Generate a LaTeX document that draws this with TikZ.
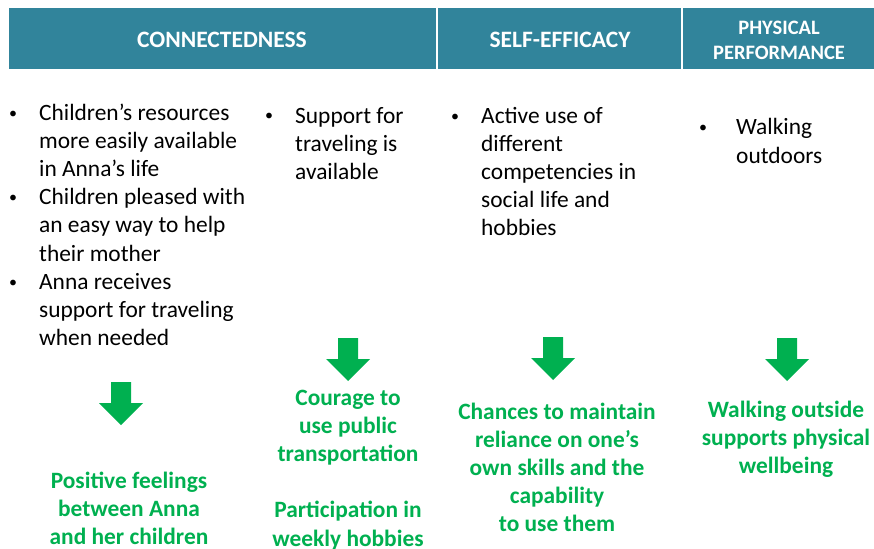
\documentclass[tikz,border=0pt]{standalone}
\usepackage{fontspec}
\setmainfont{Carlito}
\usetikzlibrary{positioning}
\definecolor{headteal}{RGB}{49,132,155}
\definecolor{outgreen}{RGB}{0,176,80}
\tikzset{
    headbox/.style={fill=headteal, draw=white, line width=1.5pt},
    headtext/.style={text=white, align=center, inner sep=0pt,
        font=\bfseries\fontsize{23.5}{25}\selectfont},
    bullets/.style={anchor=base west, inner sep=0pt, align=left,
        font=\fontsize{23.4}{28.2}\selectfont},
    outcome/.style={anchor=base, inner sep=0pt, align=center, text=outgreen,
        font=\bfseries\fontsize{23.4}{28.2}\selectfont},
    pics/blockdown/.style={code={
        \fill[outgreen] (-10,0) -- (10,0) -- (10,21) -- (22,21) -- (0,43)
            -- (-22,21) -- (-10,21) -- cycle;}}
}
\newcommand{\bl}[1][22pt]{\llap{\raisebox{2pt}{\fontsize{16}{16}\selectfont\textbullet}\hspace{#1}}}

\begin{document}
\begin{tikzpicture}[x=1pt, y=-1pt]
    \useasboundingbox (0,0) rectangle (874,548);
    % header bar
    \draw[headbox] (8,7) rectangle (437,70);
    \draw[headbox] (437,7) rectangle (682,70);
    \draw[headbox] (682,7) rectangle (876,70);
    \node[headtext] (hcon) at (222,40) {CONNECTEDNESS};
    \node[headtext] (heff) at (560,40) {SELF-EFFICACY};
    \node[headtext, font=\bfseries\fontsize{20.5}{25}\selectfont] (hphy) at (779,40) {PHYSICAL\\PERFORMANCE};

    % bullet columns (anchored at the last line's baseline)
    \node[bullets] (bcon) at (39,345.6) {\bl Children's resources\\more easily available\\in Anna's life\\
        \bl Children pleased with\\an easy way to help\\their mother\\
        \bl Anna receives\\support for traveling\\when needed};
    \node[bullets] (btra) at (295,179.4) {\bl Support for\\traveling is\\available};
    \node[bullets] (beff) at (481,235.8) {\bl Active use of\\different\\competencies in\\social life and\\hobbies};
    \node[bullets] (bphy) at (736,163.2) {\bl[29pt]Walking\\outdoors};

    % arrows
    \pic at (121,382) {blockdown};
    \pic at (348,338) {blockdown};
    \pic at (553,337) {blockdown};
    \pic at (787,338) {blockdown};

    % outcomes
    \node[outcome] (ocon) at (129,544.4) {Positive feelings\\between Anna\\and her children};
    \node[outcome] (otra) at (348,546) {Courage to\\use public\\transportation\\[28.2pt]Participation in\\weekly hobbies};
    \node[outcome] (oeff) at (557,531.8) {Chances to maintain\\reliance on one's\\own skills and the\\capability\\to use them};
    \node[outcome] (ophy) at (786,473.4) {Walking outside\\supports physical\\wellbeing};
\end{tikzpicture}
\end{document}
